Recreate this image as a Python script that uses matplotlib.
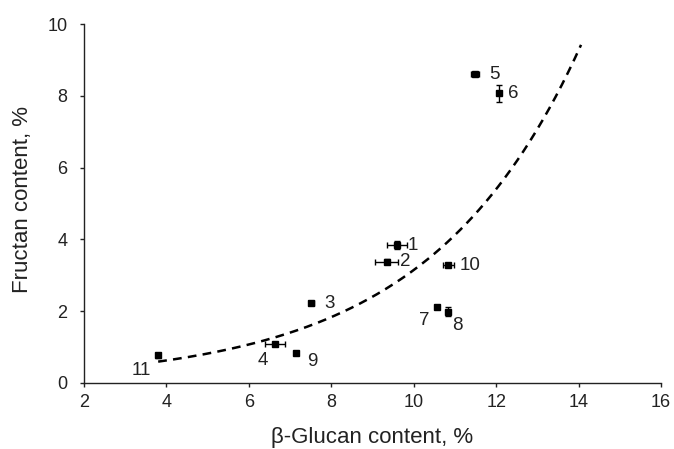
import numpy as np
import matplotlib
matplotlib.use("Agg")
from matplotlib import pyplot as plt

plt.rcParams['font.family'] = ['Liberation Sans', 'DejaVu Sans']

# sample data
labels = ['1', '2', '3', '4', '5', '6', '7', '8', '9', '10', '11']
glucan = [9.59, 9.35, 7.51, 6.64, 11.49, 12.06, 10.56, 10.84, 7.15, 10.84, 3.80]
fructan = [3.84, 3.38, 2.22, 1.07, 8.60, 8.07, 2.10, 1.98, 0.84, 3.28, 0.77]
glucan_err = [0.24, 0.28, 0.06, 0.24, 0.09, 0.03, 0.05, 0.05, 0.05, 0.14, 0.05]
fructan_err = [0.11, 0.07, 0.06, 0.06, 0.04, 0.24, 0.05, 0.12, 0.05, 0.04, 0.07]

# label offsets in pixels (dx right, dy down)
offsets = [(16, 0), (18, 0), (18, 0), (-12, 16), (19, 0), (15, 0),
           (-13, 13), (9, 14), (16, 9), (22, 0), (-17, 15)]

# exponential trend line (fit of ln y on x), extended 2 units forward
b, ln_a = np.polyfit(glucan, np.log(fructan), 1)
xt = np.linspace(min(glucan), max(glucan) + 2.0, 200)
yt = np.exp(ln_a) * np.exp(b * xt)

fig = plt.figure(figsize=(6.74, 4.49), dpi=100)
ax = fig.add_axes([0.1246, 0.1477, 0.8561, 0.7982])

ax.plot(xt, yt, color='black', lw=1.8, ls=(0, (3.5, 2.5)))
ax.errorbar(glucan, fructan, xerr=glucan_err, yerr=fructan_err, fmt='s',
            color='black', ms=4, elinewidth=1, capsize=2.5, capthick=1)

for lab, x, y, (dx, dy) in zip(labels, glucan, fructan, offsets):
    ax.annotate(lab, (x, y), xytext=(dx * 0.72, -dy * 0.72), textcoords='offset points',
                ha='center', va='center', fontsize=13.5, color='#222222')

ax.set_xlim(2, 16)
ax.set_ylim(0, 10)
ax.set_xticks(range(2, 17, 2))
ax.set_yticks(range(0, 11, 2))
for s in ['top', 'right']:
    ax.spines[s].set_visible(False)
for s in ['left', 'bottom']:
    ax.spines[s].set_color('#222222')
    ax.spines[s].set_linewidth(1)
ax.tick_params(direction='out', length=3, width=1, labelsize=13, colors='#222222')
ax.tick_params(axis='x', pad=5.5)
ax.tick_params(axis='y', pad=9)

ax.set_xlabel('β-Glucan content, %', fontsize=16, color='#222222', va='baseline')
ax.xaxis.set_label_coords(0.5, -0.1683)
ax.set_ylabel('Fructan content, %', fontsize=16, color='#222222', va='center')
ax.yaxis.set_label_coords(-0.1057, 0.5125)

fig.savefig('out.png', dpi=100)
